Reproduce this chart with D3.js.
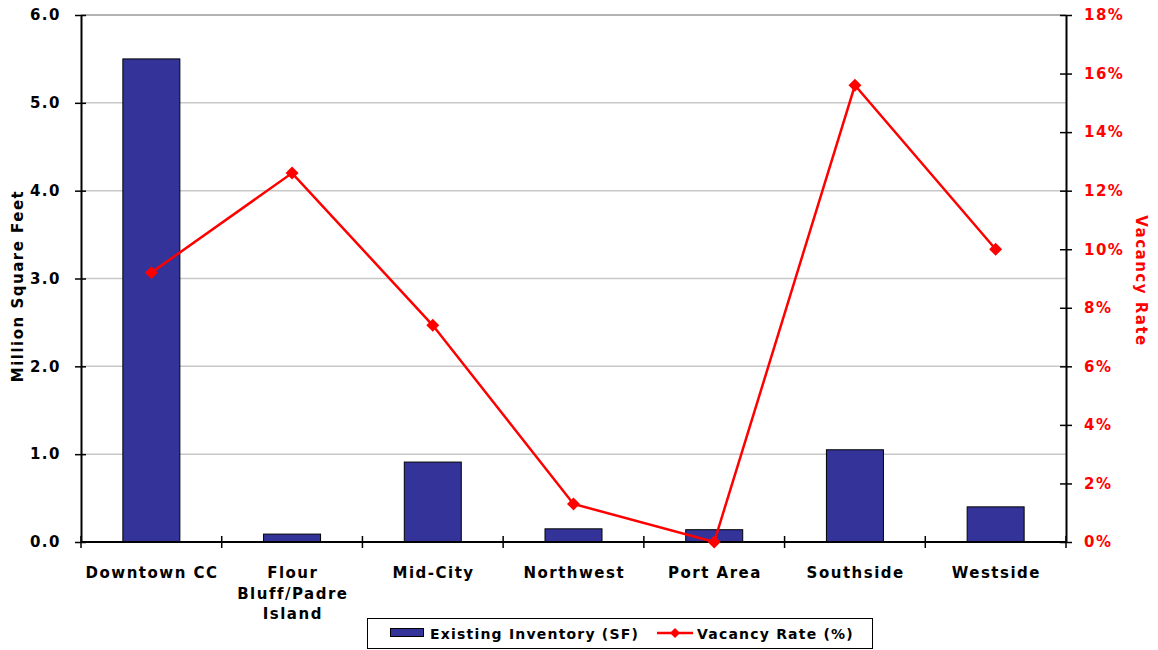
<!DOCTYPE html>
<html>
<head>
<meta charset="utf-8">
<script src="https://cdn.jsdelivr.net/npm/d3@7/dist/d3.min.js"></script>
<style>
  html, body { margin: 0; padding: 0; background: #fff; }
  svg { display: block; font-family: "DejaVu Sans", Verdana, sans-serif; font-weight: bold; }
</style>
</head>
<body>
<svg id="chart" width="1158" height="650"></svg>
<script>
// Office submarkets
const categories = ["Downtown CC", "Flour Bluff/Padre Island", "Mid-City", "Northwest", "Port Area", "Southside", "Westside"];
const categoryLines = [["Downtown CC"], ["Flour", "Bluff/Padre", "Island"], ["Mid-City"], ["Northwest"], ["Port Area"], ["Southside"], ["Westside"]];
// Existing inventory, million square feet
const inventory = [5.50, 0.09, 0.91, 0.15, 0.14, 1.05, 0.40];
// Vacancy rate, percent
const vacancy = [9.2, 12.6, 7.4, 1.3, 0.0, 15.6, 10.0];
const leftTicks = [0, 1, 2, 3, 4, 5, 6];
const rightTicks = [0, 2, 4, 6, 8, 10, 12, 14, 16, 18];
const seriesNames = ["Existing Inventory (SF)", "Vacancy Rate (%)"];

const FS = 15, LS = 1.5;
const svg = d3.select("#chart");
const m = { left: 81, right: 1066, top: 15, bottom: 542 };

const x = d3.scaleBand().domain(categories).range([m.left, m.right]).paddingInner(0).paddingOuter(0);
const yL = d3.scaleLinear().domain([0, 6]).range([m.bottom, m.top]);
const yR = d3.scaleLinear().domain([0, 18]).range([m.bottom, m.top]);
const cx = i => x(categories[i]) + x.bandwidth() / 2;

// gridlines
svg.append("g").selectAll("line").data(leftTicks.filter(d => d > 0)).join("line")
  .attr("x1", m.left).attr("x2", m.right)
  .attr("y1", d => yL(d)).attr("y2", d => yL(d))
  .attr("stroke", d => d === 6 ? "#999" : "#c8c8c8").attr("stroke-width", 1.5);

// bars
const barW = x.bandwidth() * 0.405;
svg.append("g").selectAll("rect").data(inventory).join("rect")
  .attr("x", (d, i) => cx(i) - barW / 2)
  .attr("y", d => yL(d))
  .attr("width", barW)
  .attr("height", d => yL(0) - yL(d))
  .attr("fill", "#333399").attr("stroke", "#000").attr("stroke-width", 1);

function styleTicks(g, color) {
  g.selectAll(".tick text")
    .attr("font-size", FS).attr("font-weight", "bold")
    .attr("font-family", "DejaVu Sans, Verdana, sans-serif")
    .attr("letter-spacing", LS).attr("fill", color);
}

// left axis
const axL = d3.axisLeft(yL).tickValues(leftTicks).tickFormat(d3.format(".1f")).tickSizeInner(6).tickSizeOuter(0).tickPadding(14);
const gL = svg.append("g").attr("transform", `translate(${m.left},0)`).call(axL);
gL.select(".domain").attr("stroke", "#000").attr("stroke-width", 2);
gL.selectAll(".tick line").attr("x1", -6).attr("x2", 5).attr("stroke", "#000").attr("stroke-width", 1.5);
styleTicks(gL, "#000");

// right axis
const axR = d3.axisRight(yR).tickValues(rightTicks).tickFormat(d => d + "%").tickSizeInner(6).tickSizeOuter(0).tickPadding(12);
const gR = svg.append("g").attr("transform", `translate(${m.right},0)`).call(axR);
gR.select(".domain").attr("stroke", "#000").attr("stroke-width", 2);
gR.selectAll(".tick line").attr("x1", -6).attr("x2", 6).attr("stroke", "#000").attr("stroke-width", 1.5);
styleTicks(gR, "#ff0000");

// bottom axis with boundary ticks
svg.append("line").attr("x1", m.left).attr("x2", m.right).attr("y1", m.bottom).attr("y2", m.bottom)
  .attr("stroke", "#000").attr("stroke-width", 2);
const bounds = categories.map(c => x(c)).concat([m.right]);
svg.append("g").selectAll("line").data(bounds).join("line")
  .attr("x1", d => d).attr("x2", d => d)
  .attr("y1", m.bottom - 6).attr("y2", m.bottom + 6)
  .attr("stroke", "#000").attr("stroke-width", 1.5);

// category labels
const lab = svg.append("g").attr("font-size", FS).attr("letter-spacing", LS).attr("text-anchor", "middle").attr("fill", "#000");
categories.forEach((c, i) => {
  const t = lab.append("text").attr("x", cx(i)).attr("y", 578);
  categoryLines[i].forEach((ln, j) => {
    t.append("tspan").attr("x", cx(i) + LS / 2).attr("dy", j === 0 ? 0 : 20.5).text(ln);
  });
});

// vacancy line
const line = d3.line().x((d, i) => cx(i)).y(d => yR(d));
svg.append("path").datum(vacancy).attr("d", line)
  .attr("fill", "none").attr("stroke", "#ff0000").attr("stroke-width", 2.5);
const diamond = d3.symbol().type(d3.symbolSquare).size(84);
svg.append("g").selectAll("path").data(vacancy).join("path")
  .attr("d", diamond)
  .attr("transform", (d, i) => `translate(${cx(i)},${yR(d)}) rotate(45)`)
  .attr("fill", "#ff0000");

// axis titles
svg.append("text").attr("transform", `translate(23,286) rotate(-90)`)
  .attr("text-anchor", "middle").attr("font-size", FS).attr("letter-spacing", LS).attr("fill", "#000").text("Million Square Feet");
svg.append("text").attr("transform", `translate(1136,281) rotate(90)`)
  .attr("text-anchor", "middle").attr("font-size", FS).attr("letter-spacing", LS).attr("fill", "#ff0000").text("Vacancy Rate");

// legend
const lg = svg.append("g");
lg.append("rect").attr("x", 367.5).attr("y", 618.5).attr("width", 505).attr("height", 30)
  .attr("fill", "#fff").attr("stroke", "#000").attr("stroke-width", 1);
lg.append("rect").attr("x", 390.5).attr("y", 628.5).attr("width", 33).attr("height", 8)
  .attr("fill", "#333399").attr("stroke", "#000").attr("stroke-width", 1);
lg.append("text").attr("x", 430).attr("y", 639).attr("font-size", 14).attr("letter-spacing", 1.2).attr("fill", "#000").text(seriesNames[0]);
lg.append("line").attr("x1", 657).attr("x2", 693).attr("y1", 633).attr("y2", 633)
  .attr("stroke", "#ff0000").attr("stroke-width", 2.5);
lg.append("path").attr("d", d3.symbol().type(d3.symbolSquare).size(50)).attr("transform", "translate(675,633) rotate(45)").attr("fill", "#ff0000");
lg.append("text").attr("x", 697).attr("y", 639).attr("font-size", 14).attr("letter-spacing", 1.2).attr("fill", "#000").text(seriesNames[1]);
</script>
</body>
</html>
